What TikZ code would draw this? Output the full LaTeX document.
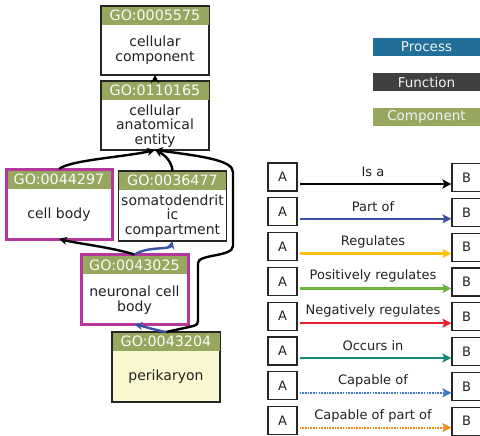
\documentclass[tikz,border=0pt]{standalone}
\usepackage{fontspec}
\setmainfont{DejaVu Sans}
\usetikzlibrary{arrows.meta}
\definecolor{gogreen}{HTML}{97A760}
\definecolor{gomag}{HTML}{B5379B}
\definecolor{goyel}{HTML}{FAF8D0}
\definecolor{procblue}{HTML}{21709A}
\definecolor{funcgray}{HTML}{404040}
\definecolor{partblue}{HTML}{3A52A4}
\definecolor{regyel}{HTML}{FDC010}
\definecolor{posgreen}{HTML}{6DB33F}
\definecolor{negred}{HTML}{E8212A}
\definecolor{occteal}{HTML}{15877C}
\definecolor{capblue}{HTML}{3F79C2}
\definecolor{caporange}{HTML}{F7891F}
\definecolor{txt}{HTML}{222222}
\begin{document}
\begin{tikzpicture}[x=1pt,y=-1pt,
  font=\fontsize{13}{14.5}\selectfont,
  term/.style={draw=black!85, line width=1.3pt, fill=white, inner sep=0pt, outer sep=0pt, anchor=north west},
  magterm/.style={term, draw=gomag, line width=3pt},
  hdr/.style={fill=gogreen, text=white!95!gogreen, inner sep=0pt, outer sep=0pt, minimum height=18pt, anchor=north, font=\fontsize{14.3}{15}\selectfont},
  body/.style={align=center, text=txt, inner sep=0pt, font=\fontsize{14}{14.3}\selectfont},
  isa/.style={draw=black, line width=2.4pt, -{Stealth[length=8pt,width=8pt]}},
  partof/.style={draw=partblue, line width=2.4pt, -{Stealth[length=8pt,width=8pt]}},
  lbox/.style={draw=black!85, line width=1.2pt, fill=white, minimum width=29pt, minimum height=28pt, inner sep=0pt, text=txt},
  legtag/.style={minimum width=107pt, minimum height=18pt, inner sep=0pt, text=white!95!black, font=\fontsize{13.5}{14}\selectfont},
  larrow/.style={line width=2.4pt, -{Stealth[length=9pt,width=9pt,inset=2pt]}},
  dotline/.style={line width=2pt, dash pattern=on 1.6pt off 1.1pt}
]
\useasboundingbox (0,0) rectangle (480,436);

% legend tags
\node[legtag, fill=procblue] (lp) at (426.5,47) {Process};
\node[legtag, fill=funcgray] (lf) at (426.5,82) {Function};
\node[legtag, fill=gogreen] (lc) at (426.5,117) {Component};

% GO terms
\node[term, minimum width=108pt, minimum height=69pt] (a) at (101,6) {};
\node[hdr, minimum width=107pt] (ah) at ([yshift=-0.6pt]a.north) {GO:0005575};
\node[body] (at) at (155,50) {cellular\\component};

\node[term, minimum width=108pt, minimum height=69pt] (b) at (101,81) {};
\node[hdr, minimum width=107pt] (bh) at ([yshift=-0.6pt]b.north) {GO:0110165};
\node[body] (bt) at (155,126) {cellular\\anatomical\\entity};

\node[magterm, minimum width=106pt, minimum height=70pt] (c) at (6,169) {};
\node[hdr, minimum width=103pt] (ch) at ([yshift=-1.5pt]c.north) {GO:0044297};
\node[body] (ct) at (59,215) {cell body};

\node[term, minimum width=108pt, minimum height=70pt] (d) at (118.5,171) {};
\node[hdr, minimum width=107pt] (dh) at ([yshift=-0.6pt]d.north) {GO:0036477};
\node[body] (dt) at (172.5,216) {somatodendrit\\ic\\compartment};

\node[magterm, minimum width=107pt, minimum height=70pt] (e) at (81,254.5) {};
\node[hdr, minimum width=104pt] (eh) at ([yshift=-1.5pt]e.north) {GO:0043025};
\node[body] (et) at (134.5,300) {neuronal cell\\body};

\node[term, fill=goyel, minimum width=108pt, minimum height=70pt] (f) at (112,332) {};
\node[hdr, minimum width=107pt] (fh) at ([yshift=-0.6pt]f.north) {GO:0043204};
\node[body] (ft) at (166,377) {perikaryon};

% edges
\draw[isa] (b.north) -- (a.south);
\draw[isa] (c.north) .. controls (70,160) and (125,157) .. (b.south);
\draw[isa] (d.north) .. controls (172,162) and (165,155) .. (b.south);
\draw[isa] (f.north) -- (189,327) .. controls (198,325) .. (198,317) -- (198,263)
  .. controls (198,254) and (233,257) .. (233,246) -- (233,172)
  .. controls (233,160) and (200,156) .. (b.south);
\draw[partof] (f.north) .. controls (155,330) and (142,326) .. (e.south);
\draw[isa] (e.north) .. controls (110,247) and (80,244) .. (c.south);
\draw[partof] (e.north) .. controls (148,246) and (170,250) .. (d.south);

% relation legend
\foreach \i/\lab/\col/\sty in {0/Is a/black/solid,1/Part of/partblue/solid,2/Regulates/regyel/solid,3/Positively regulates/posgreen/solid,4/Negatively regulates/negred/solid,5/Occurs in/occteal/solid,6/Capable of/capblue/dotline,7/Capable of part of/caporange/dotline}{
  \pgfmathsetmacro{\top}{163+34.8*\i}
  \node[lbox] (la\i) at (282.5,\top+14) {A};
  \node[lbox] (lb\i) at (466.5,\top+14.5) {B};
  \draw[larrow, draw=\col, fill=\col, \sty] ([shift={(2pt,-7pt)}]la\i.east) -- ([shift={(0pt,-6.5pt)}]lb\i.west);
  \node[text=txt, inner sep=0pt] (ll\i) at (373,\top+9) {\lab};
}
\end{tikzpicture}
\end{document}
